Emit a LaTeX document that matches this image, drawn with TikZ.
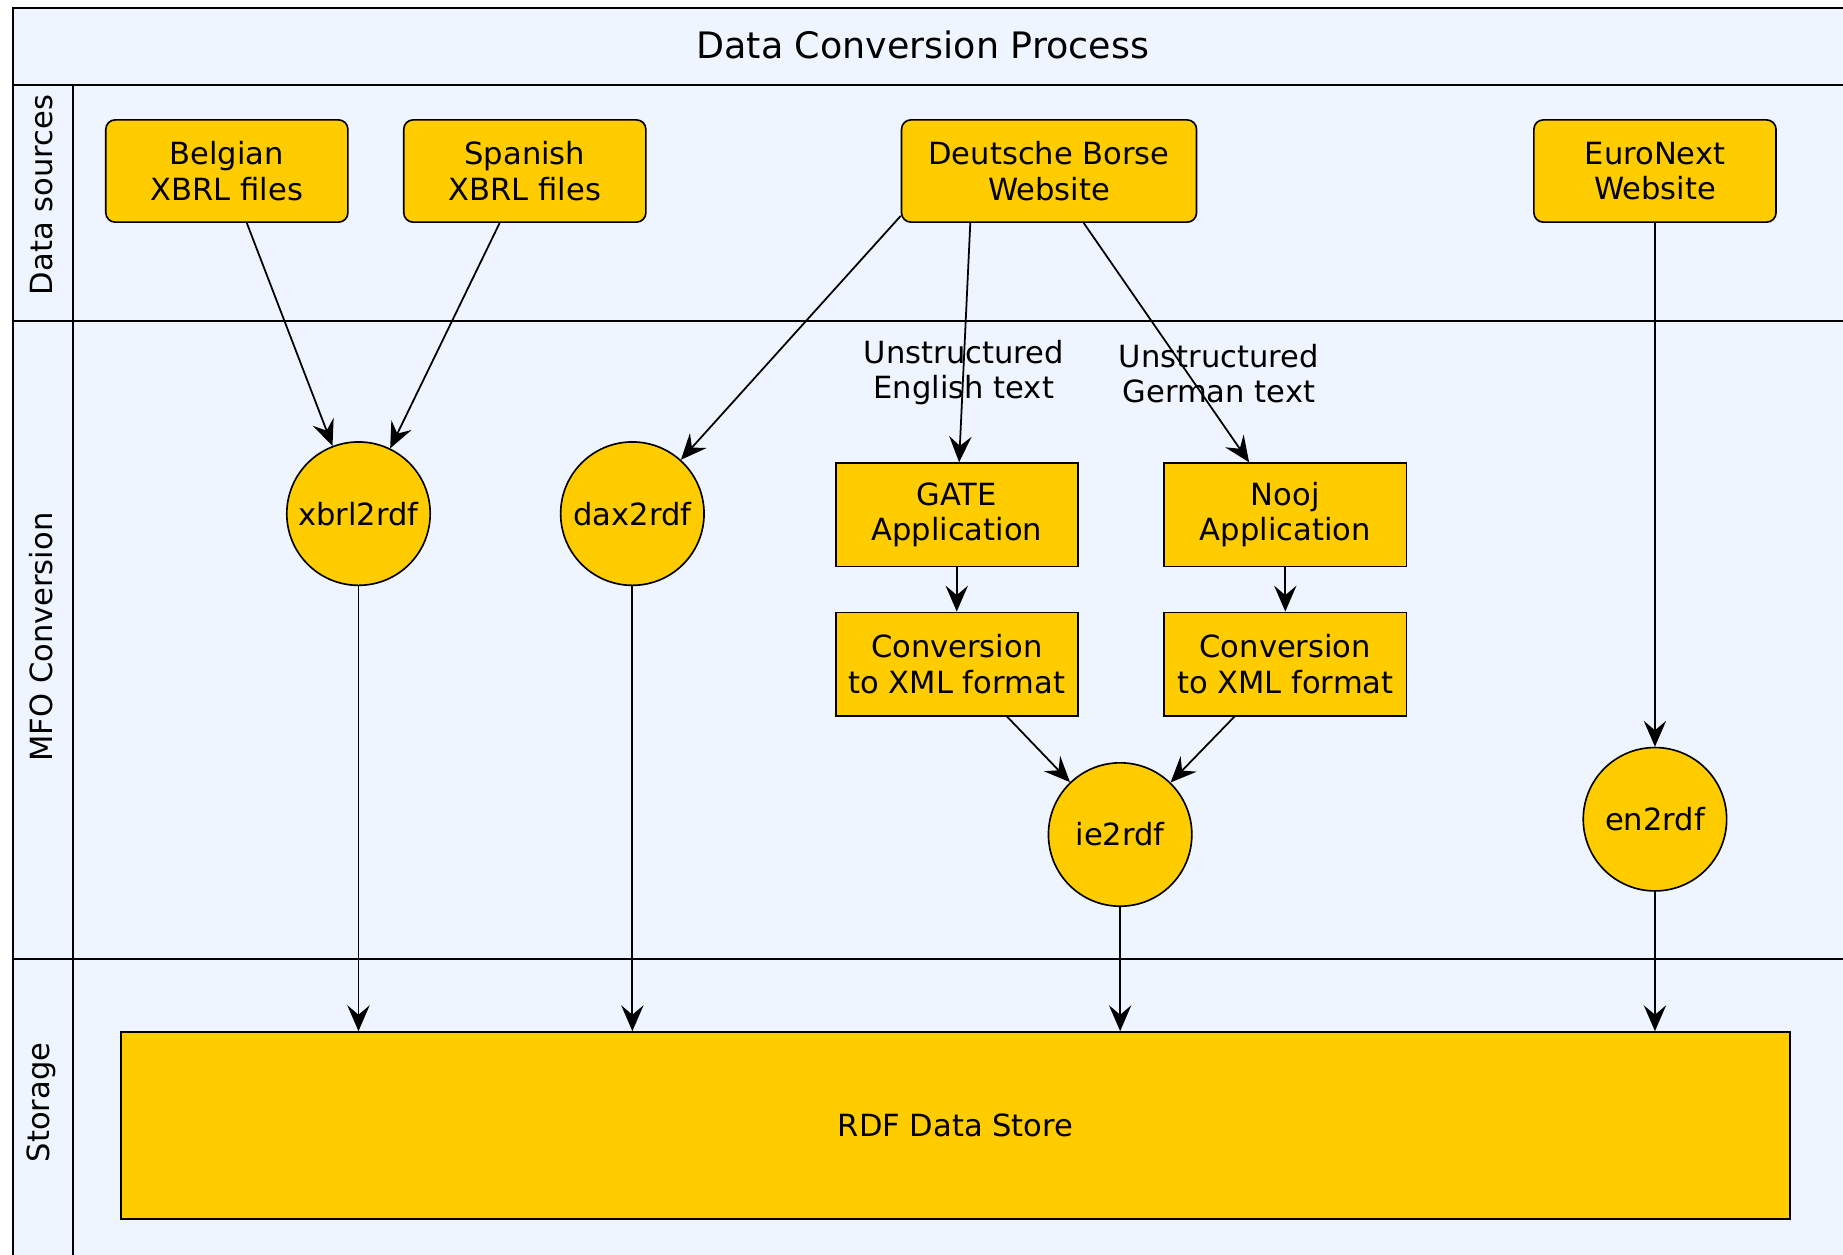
\documentclass[tikz,border=0pt]{standalone}
\usepackage{fontspec}
\setmainfont{DejaVu Sans}
\usetikzlibrary{arrows.meta,calc}
\definecolor{lanebg}{HTML}{EEF5FE}
\definecolor{boxfill}{HTML}{FFCC00}
\begin{document}
\begin{tikzpicture}[x=1pt,y=-1pt,
  every node/.style={font=\fontsize{26}{30}\selectfont, align=center, text=black},
  srcbox/.style={draw=black, fill=boxfill, rounded corners=8pt, minimum width=206pt, minimum height=87pt, line width=1.4pt, inner sep=0pt},
  procbox/.style={draw=black, fill=boxfill, minimum width=206pt, minimum height=88pt, line width=1.4pt, inner sep=0pt},
  proc/.style={draw=black, fill=boxfill, circle, minimum size=122pt, line width=1.4pt, inner sep=0pt},
  conn/.style={-{Stealth[length=22pt,width=19pt,inset=8pt]}, line width=1.5pt},
  lane/.style={line width=1.7pt, draw=black},
  lanelabel/.style={rotate=90},
]
\useasboundingbox (0,0) rectangle (1568,1067);
\begin{scope}
  \clip (0,0) rectangle (1568,1067);
  \fill[lanebg] (11,7) rectangle (1600,1100);
  \draw[lane] (11,1100) -- (11,7) -- (1600,7);
  \draw[lane] (11,72) -- (1600,72);
  \draw[lane] (11,273) -- (1600,273);
  \draw[lane] (11,816) -- (1600,816);
  \draw[lane] (62,72) -- (62,1100);
\end{scope}

\node[font=\fontsize{31}{36}\selectfont] (title) at (785,38) {Data Conversion Process};
\node[lanelabel] (ds) at (35,166) {Data sources};
\node[lanelabel] (mfo) at (35,542) {MFO Conversion};
\node[lanelabel] (st) at (35,938) {Storage};

\node[srcbox] (bel) at (193,145.5) {Belgian\\XBRL files};
\node[srcbox] (spa) at (446.5,145.5) {Spanish\\XBRL files};
\node[srcbox, minimum width=251pt] (deu) at (892.5,145.5) {Deutsche Borse\\Website};
\node[srcbox] (euro) at (1408,145.5) {EuroNext\\Website};

\node[proc] (xbrl) at (305,437) {xbrl2rdf};
\node[proc] (dax) at (538,437) {dax2rdf};
\node[procbox] (gate) at (814,438) {GATE\\Application};
\node[procbox] (nooj) at (1093.5,438) {Nooj\\Application};
\node[procbox] (gconv) at (814,565) {Conversion\\to XML format};
\node[procbox] (nconv) at (1093.5,565) {Conversion\\to XML format};
\node[proc] (ie) at (953,710) {ie2rdf};
\node[proc] (en) at (1408,697) {en2rdf};

\node[procbox, minimum width=1420pt, minimum height=159pt] (store) at (813,957.5) {RDF Data Store};

\node (lab1) at (820,317) {Unstructured\\English text};
\node (lab2) at (1037,318) {Unstructured\\German text};

\draw[conn] (bel) -- (xbrl);
\draw[conn] (spa) -- (xbrl);
\draw[conn] ([yshift=6pt]deu.south west) -- (dax);
\draw[conn] ([xshift=-67pt]deu.south) -- ([xshift=2pt]gate.north);
\draw[conn] ([xshift=29.5pt]deu.south) -- (nooj);
\draw[conn] (euro) -- (en);
\draw[conn] (gate) -- (gconv);
\draw[conn] (nooj) -- (nconv);
\draw[conn] (gconv) -- (ie);
\draw[conn] (nconv) -- (ie);
\draw[conn] (xbrl) -- (xbrl |- store.north);
\draw[conn] (dax) -- (dax |- store.north);
\draw[conn] (ie) -- (ie |- store.north);
\draw[conn] (en) -- (en |- store.north);
\end{tikzpicture}
\end{document}
